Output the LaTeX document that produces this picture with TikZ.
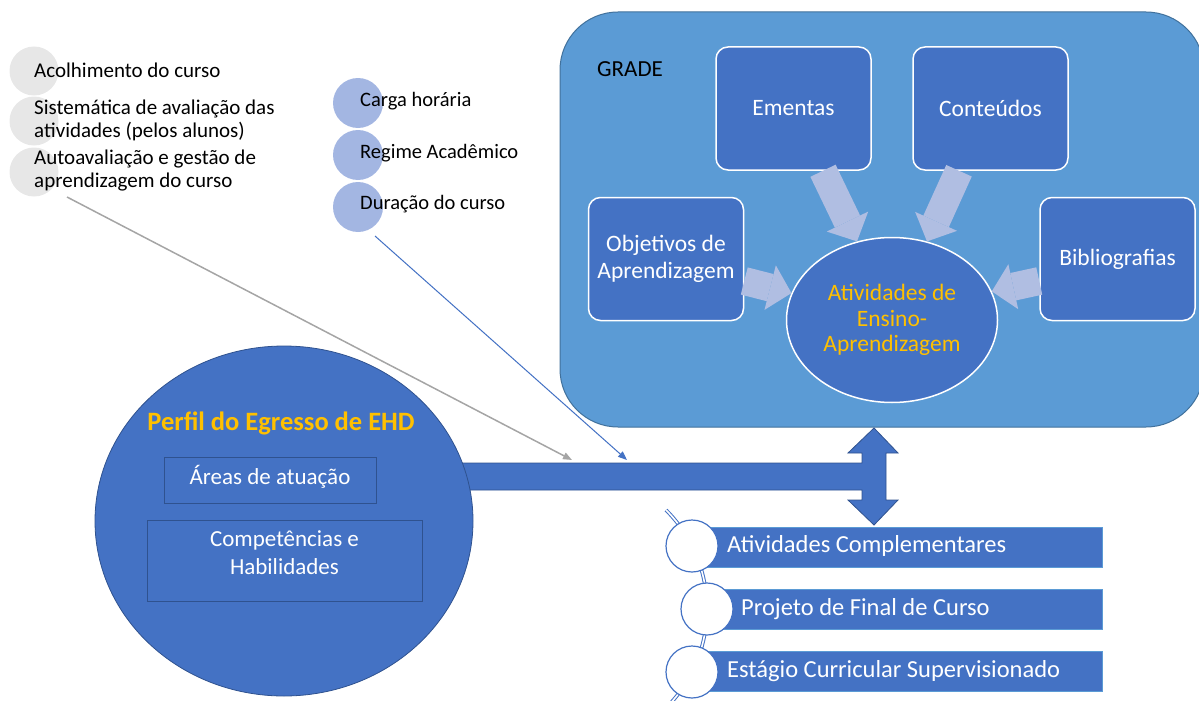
\documentclass[tikz,border=0pt]{standalone}
\usepackage{fontspec}
\setmainfont{Carlito}
\usetikzlibrary{arrows.meta,shapes.geometric}
\definecolor{blueA}{HTML}{4472C4}
\definecolor{blueB}{HTML}{5B9BD5}
\definecolor{blueEdge}{HTML}{41719C}
\definecolor{darkEdge}{HTML}{2F528F}
\definecolor{gold}{HTML}{FFC000}
\definecolor{lav}{HTML}{B0BEE2}
\definecolor{greyC}{HTML}{E7E7E7}
\definecolor{lblue}{HTML}{A3B6E2}
\definecolor{greyL}{HTML}{A5A5A5}
\tikzset{
  greycirc/.style={circle, fill=greyC, minimum size=49pt, inner sep=0pt},
  bluecirc/.style={circle, fill=lblue, minimum size=50pt, inner sep=0pt},
  lbl/.style={anchor=west, inner sep=0pt, align=left, text=black, font=\fontsize{21}{23}\selectfont},
  sqbox/.style={rectangle, rounded corners=12pt, fill=blueA, draw=white, line width=1.5pt, text=white,
    minimum width=155pt, minimum height=123pt, inner sep=0pt, font=\fontsize{23.5}{27}\selectfont, align=center},
  blk/.style={draw=lav, line width=28pt, -{Triangle[length=22pt, width=46pt, line width=0pt]}},
  thinarrow/.style={line width=1.5pt, -{Triangle[length=9pt, width=7pt]}},
  wtext/.style={text=white, inner sep=0pt, font=\fontsize{23}{28}\selectfont, align=center},
  listbar/.style={rectangle, fill=blueA, draw=blueB, line width=0.6pt, inner sep=0pt},
  wcirc/.style={circle, fill=white, draw=blueA, line width=1.2pt, minimum size=52pt, inner sep=0pt},
  listtext/.style={anchor=west, text=white, inner sep=0pt, font=\fontsize{24.5}{27}\selectfont},
}
\begin{document}
\begin{tikzpicture}[x=1pt,y=-1pt]
\useasboundingbox (0,0) rectangle (1199,701);
\begin{scope}
\clip (0,0) rectangle (1199,701);

% grey list
\node[greycirc] (g1) at (34,71) {};
\node[greycirc] (g2) at (34,121) {};
\node[greycirc] (g3) at (34,172) {};
\node[lbl] (t1) at (34,70) {Acolhimento do curso};
\node[lbl] (t2) at (34,120) {Sistemática de avaliação das\\atividades (pelos alunos)};
\node[lbl] (t3) at (34,171) {Autoavaliação e gestão de\\aprendizagem do curso};

% light blue list
\node[bluecirc] (b1) at (358,103) {};
\node[bluecirc] (b2) at (358,155) {};
\node[bluecirc] (b3) at (358,207) {};
\node[lbl, font=\fontsize{20.5}{23}\selectfont] (u1) at (360,101) {Carga horária};
\node[lbl, font=\fontsize{20.5}{23}\selectfont] (u2) at (360,153) {Regime Acadêmico};
\node[lbl, font=\fontsize{20.5}{23}\selectfont] (u3) at (360,204) {Duração do curso};

% GRADE container
\draw[fill=blueB, draw=blueEdge, line width=1pt, rounded corners=58pt] (560,12) rectangle (1204,427);
\node[anchor=west, inner sep=0pt, font=\fontsize{23}{24}\selectfont] (grade) at (597,69) {GRADE};

\node[sqbox] (em) at (793.5,108.5) {Ementas};
\node[sqbox] (co) at (990.5,108.5) {Conteúdos};
\node[sqbox] (ob) at (666,259) {Objetivos de\\Aprendizagem};
\node[sqbox] (bi) at (1117.5,259) {Bibliografias};
\node[ellipse, fill=blueA, draw=white, line width=1.5pt, minimum width=211pt, minimum height=165pt,
      inner sep=0pt, text=gold, font=\fontsize{23.5}{25.5}\selectfont, align=center] (at) at (892,320)
      {Atividades de\\Ensino-\\Aprendizagem};

\draw[blk] ([xshift=29.5pt]em.south) -- (at.114);
\draw[blk] ([xshift=-31.5pt]co.south) -- (at.66);
\draw[blk] ([yshift=-22pt]ob.east) -- (at.165);
\draw[blk] ([yshift=-22pt]bi.west) -- (at.16);

% horizontal bar + double arrow
\draw[fill=blueA, draw=darkEdge, line width=0.8pt]
  (440,463) -- (862,463) -- (862,453) -- (848,453) -- (874,428) -- (898,453) -- (886,453)
  -- (886,500) -- (898,500) -- (874,525) -- (848,500) -- (862,500) -- (862,490) -- (440,490) -- cycle;

% Perfil ellipse
\node[ellipse, fill=blueA, draw=darkEdge, line width=0.8pt, minimum width=378pt, minimum height=350pt, inner sep=0pt] (pe) at (284,521) {};
\node[inner sep=0pt, text=gold, font=\fontsize{26.5}{28}\selectfont\bfseries] (ptitle) at (281,423) {Perfil do Egresso de EHD};
\node[draw=darkEdge, line width=0.8pt, minimum width=212pt, minimum height=46pt, inner sep=0pt] (ar) at (270,480) {};
\node[wtext] (art) at (270,477) {Áreas de atuação};
\node[draw=darkEdge, line width=0.8pt, minimum width=275pt, minimum height=81pt, inner sep=0pt] (cp) at (284.5,560.5) {};
\node[wtext] (cpt) at (284.5,553) {Competências e\\Habilidades};

% connectors
\coordinate (gs) at (67,197);
\coordinate (ge) at (572,460);
\draw[thinarrow, greyL] (gs) -- (ge);
\coordinate (bs) at (375,236);
\coordinate (be) at (627,460);
\draw[thinarrow, blueA, line width=1pt] (bs) -- (be);

% bottom list
\draw[draw=blueA, double=white, double distance=1.6pt, line width=1pt] (567,609) ++(-45:140) arc[start angle=-45, end angle=47, radius=140];
\node[listbar, minimum width=410pt, minimum height=40pt] (r1) at (897,547) {};
\node[listbar, minimum width=395pt, minimum height=40pt] (r2) at (904.5,609.5) {};
\node[listbar, minimum width=410pt, minimum height=40pt] (r3) at (897,671.5) {};
\node[wcirc] (c1) at (692,546) {};
\node[wcirc] (c2) at (707,609) {};
\node[wcirc] (c3) at (692,672) {};
\node[listtext] (l1) at (727,546) {Atividades Complementares};
\node[listtext] (l2) at (741,609) {Projeto de Final de Curso};
\node[listtext] (l3) at (727,671) {Estágio Curricular Supervisionado};
\end{scope}
\end{tikzpicture}
\end{document}
